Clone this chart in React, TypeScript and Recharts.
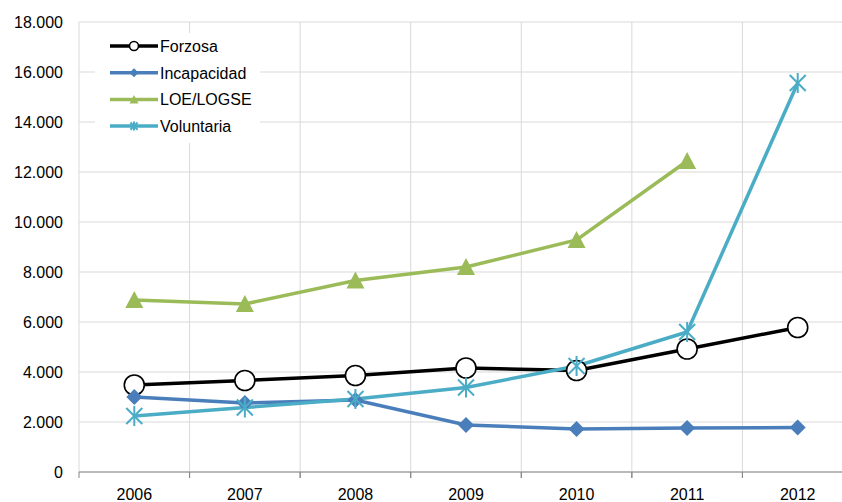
import { CartesianGrid, Legend, Line, LineChart, XAxis, YAxis } from "recharts";

// Years on the category axis
const years = ["2006", "2007", "2008", "2009", "2010", "2011", "2012"];

// Values
const forzosa = [3480, 3660, 3860, 4160, 4060, 4920, 5780];
const incapacidad = [3000, 2760, 2880, 1880, 1720, 1760, 1780];
const loeLogse = [6880, 6720, 7660, 8200, 9280, 12440, null];
const voluntaria = [2240, 2580, 2920, 3380, 4240, 5600, 15560];

const yTicks = [0, 2000, 4000, 6000, 8000, 10000, 12000, 14000, 16000, 18000];

const chartData = years.map((year, i) => ({
  year,
  forzosa: forzosa[i],
  incapacidad: incapacidad[i],
  loeLogse: loeLogse[i],
  voluntaria: voluntaria[i],
}));

const WIDTH = 853;
const HEIGHT = 502;
const Y_AXIS_W = 79;
const BAND = (WIDTH - Y_AXIS_W) / years.length;
const FONT = "'Liberation Sans', Arial, sans-serif";

const series = [
  { key: "forzosa", name: "Forzosa", color: "#000000", marker: "circle" },
  { key: "incapacidad", name: "Incapacidad", color: "#4a7ebb", marker: "diamond" },
  { key: "loeLogse", name: "LOE/LOGSE", color: "#9bbb59", marker: "triangle" },
  { key: "voluntaria", name: "Voluntaria", color: "#4bacc6", marker: "star" },
];

function Marker({ kind, cx, cy, s, color }) {
  if (cx == null || cy == null) return null;
  if (kind === "circle") {
    return <circle cx={cx} cy={cy} r={s} fill="#fff" stroke="#000" strokeWidth={1.6} />;
  }
  if (kind === "diamond") {
    return (
      <polygon
        points={`${cx},${cy - s} ${cx + s},${cy} ${cx},${cy + s} ${cx - s},${cy}`}
        fill={color}
      />
    );
  }
  if (kind === "triangle") {
    return (
      <polygon
        points={`${cx},${cy - s} ${cx + s},${cy + s * 0.9} ${cx - s},${cy + s * 0.9}`}
        fill={color}
      />
    );
  }
  const d = s * 0.8;
  return (
    <g stroke={color} strokeWidth={2}>
      <line x1={cx - d} y1={cy - d} x2={cx + d} y2={cy + d} />
      <line x1={cx - d} y1={cy + d} x2={cx + d} y2={cy - d} />
      <line x1={cx} y1={cy - s} x2={cx} y2={cy + s} />
    </g>
  );
}

const dotSize = { circle: 10, diamond: 8, triangle: 9, star: 10 };

function XTick({ x, y, payload }) {
  return (
    <g>
      <line x1={x - BAND / 2} y1={y} x2={x - BAND / 2} y2={y + 6} stroke="#868686" />
      <line x1={x + BAND / 2} y1={y} x2={x + BAND / 2} y2={y + 6} stroke="#868686" />
      <text x={x} y={y + 28} textAnchor="middle" fill="#000" fontSize={16} fontFamily={FONT}>
        {payload.value}
      </text>
    </g>
  );
}

function LegendBox() {
  return (
    <svg width={165} height={110} style={{ display: "block", background: "#fff" }}>
      {series.map((s, i) => {
        const cy = 13 + i * 26.7;
        return (
          <g key={s.key}>
            <line x1={15} y1={cy} x2={63} y2={cy} stroke={s.color} strokeWidth={3.5} />
            <Marker kind={s.marker} cx={39} cy={cy} s={4.5} color={s.color} />
            <text x={65} y={cy + 6} fontSize={16} fontFamily={FONT} fill="#000">
              {s.name}
            </text>
          </g>
        );
      })}
    </svg>
  );
}

export default function App() {
  return (
    <div
      style={{
        position: "absolute",
        left: 0,
        top: 0,
        width: 842,
        height: 502,
        overflow: "hidden",
        background: "#fff",
      }}
    >
      <LineChart
        width={WIDTH}
        height={HEIGHT}
        data={chartData}
        margin={{ top: 22, right: 0, bottom: 0, left: 0 }}
      >
        <CartesianGrid
          stroke="#d9d9d9"
          verticalCoordinatesGenerator={({ offset }) =>
            years.map((_, i) => offset.left + i * BAND).concat([offset.left + years.length * BAND])
          }
        />
        <XAxis
          dataKey="year"
          height={30}
          padding={{ left: BAND / 2, right: BAND / 2 }}
          tickLine={false}
          tickSize={0}
          tickMargin={0}
          axisLine={{ stroke: "#868686" }}
          tick={<XTick />}
          interval={0}
        />
        <YAxis
          width={Y_AXIS_W}
          domain={[0, 18000]}
          ticks={yTicks}
          axisLine={false}
          tickLine={false}
          tickMargin={16}
          tickSize={0}
          tick={{ fill: "#000", fontSize: 16, fontFamily: FONT }}
          tickFormatter={(v) => (v === 0 ? "0" : `${v / 1000}.000`)}
        />
        <Legend
          layout="vertical"
          align="center"
          verticalAlign="middle"
          content={() => <LegendBox />}
          wrapperStyle={{ left: 95, top: 33, width: 165 }}
        />
        {series.map((s) => (
          <Line
            key={s.key}
            dataKey={s.key}
            name={s.name}
            stroke={s.color}
            strokeWidth={3.5}
            type="linear"
            isAnimationActive={false}
            dot={(p) => (
              <Marker
                key={`${s.key}-${p.index}`}
                kind={s.marker}
                cx={p.cx}
                cy={p.cy}
                s={dotSize[s.marker]}
                color={s.color}
              />
            )}
            activeDot={false}
          />
        ))}
      </LineChart>
    </div>
  );
}
